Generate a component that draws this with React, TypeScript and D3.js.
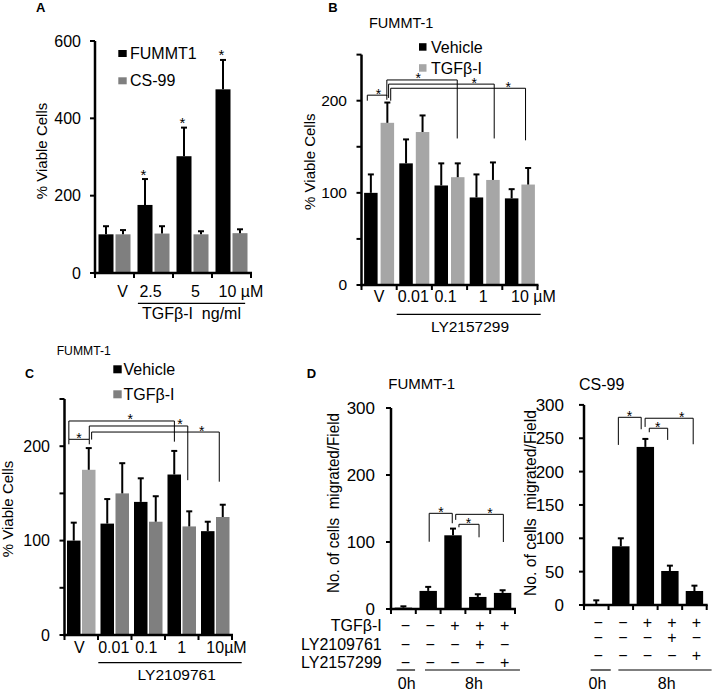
import React from "react";
import * as d3 from "d3";

const FONT = "'Liberation Sans', Arial, Helvetica, sans-serif";

/* ---------------- Panel A data ---------------- */
const aCategories = ["V", "2.5", "5", "10"];
const aLegend = ["FUMMT1", "CS-99"];
const aFummt1 = [100, 176, 302, 475];
const aFummt1Err = [21, 67, 74, 76];
const aCs99 = [100, 102, 100, 103];
const aCs99Err = [11, 19, 8, 10];
const aStarred = [false, true, true, true];
const aYTicks = [0, 200, 400, 600];

/* ---------------- Panel B data ---------------- */
const bCategories = ["V", "0.01", "0.1", "1", "10"];
const bLegend = ["Vehicle", "TGFβ-I"];
const bVehicle = [100, 132, 108, 95, 94];
const bVehicleErr = [20, 26, 24, 25, 10];
const bTgf = [176, 166, 117, 114, 109];
const bTgfErr = [22, 18, 15, 19, 18];
const bYTicks = [0, 50, 100, 150, 200, 250];
const bYTickLabels = [0, 100, 200];

/* ---------------- Panel C data ---------------- */
const cCategories = ["V", "0.01", "0.1", "1", "10"];
const cLegend = ["Vehicle", "TGFβ-I"];
const cVehicle = [100, 118, 141, 170, 110];
const cVehicleErr = [19, 26, 25, 25, 10];
const cTgf = [175, 150, 120, 115, 125];
const cTgfErr = [23, 32, 27, 16, 13];
const cYTicks = [0, 50, 100, 150, 200, 250];
const cYTickLabels = [0, 100, 200];

/* ---------------- Panel D data ---------------- */
const dConditions = ["0h", "8h", "8h+TGFβ-I", "8h+TGFβ-I+LY2109761", "8h+TGFβ-I+LY2157299"];
const dFummt = [2, 27, 110, 18, 24];
const dFummtErr = [2, 6, 10, 4, 4];
const dCs99 = [1, 88, 237, 51, 21];
const dCs99Err = [6, 12, 12, 8, 8];
const dRowNames = ["TGFβ-I", "LY2109761", "LY2157299"];
const dTgfSigns = ["−", "−", "+", "+", "+"];
const dLy2109761Signs = ["−", "−", "−", "+", "−"];
const dLy2157299Signs = ["−", "−", "−", "−", "+"];
const dFummtTicks = [0, 100, 200, 300];
const dCs99Ticks = [0, 50, 100, 150, 200, 250, 300];

/* significance brackets: x in group units, y in value units */
interface Bracket { x1: number; x2: number; sx: number; y: number; d1: number; d2: number }
const bBrackets: Bracket[] = [
  { x1: 0.165, x2: 0.72, sx: 0.48, y: 206, d1: 200, d2: 201 },
  { x1: 0.72, x2: 2.72, sx: 1.61, y: 222.5, d1: 205, d2: 159 },
  { x1: 0.77, x2: 3.77, sx: 3.2, y: 218, d1: 203, d2: 159 },
  { x1: 0.83, x2: 4.66, sx: 4.17, y: 213.5, d1: 200, d2: 157 },
];
const cBrackets: Bracket[] = [
  { x1: 0.13, x2: 0.74, sx: 0.43, y: 207.3, d1: 202, d2: 202 },
  { x1: 0.13, x2: 3.28, sx: 1.96, y: 226.7, d1: 207.3, d2: 204.8 },
  { x1: 0.74, x2: 3.68, sx: 3.45, y: 221.4, d1: 207.3, d2: 164 },
  { x1: 0.81, x2: 4.62, sx: 4.1, y: 215, d1: 207, d2: 162.4 },
];
const dFummtBrackets: Bracket[] = [
  { x1: 1.54, x2: 2.47, sx: 2.02, y: 142.8, d1: 100.4, d2: 128 },
  { x1: 2.61, x2: 4.53, sx: 3.99, y: 141.3, d1: 133, d2: 100 },
  { x1: 2.74, x2: 3.55, sx: 3.12, y: 126.4, d1: 122, d2: 107 },
];
const dCs99Brackets: Bracket[] = [
  { x1: 1.4, x2: 2.33, sx: 1.85, y: 281.4, d1: 240, d2: 263.5 },
  { x1: 2.49, x2: 4.45, sx: 3.98, y: 280, d1: 267, d2: 241 },
  { x1: 2.66, x2: 3.41, sx: 3.0, y: 265, d1: 259, d2: 247.5 },
];

interface SeriesDef { values: number[]; errs: number[]; colors: string[] }
interface PanelCfg {
  id: string;
  cats: string[];
  series: SeriesDef[];
  xr: [number, number];
  y0: number;
  ppu: number;
  yMax: number;
  barW: number;
  gap: number;
  yTicks: number[];
  yTickLabels: number[];
  tickFont: number;
  labelEnd: number;
  brackets?: Bracket[];
}

function buildPanel(c: PanelCfg) {
  const x = d3.scaleBand<string>().domain(c.cats).range(c.xr).paddingInner(0).paddingOuter(0);
  const gl = d3.scaleLinear().domain([0, c.cats.length]).range(c.xr);
  const y = d3.scaleLinear().domain([0, c.yMax]).range([c.y0, c.y0 - c.yMax * c.ppu]);
  const n = c.series.length;
  const half = n === 1 ? c.barW / 2 : c.barW + c.gap / 2;
  const xi = d3
    .scaleBand<number>()
    .domain(d3.range(n))
    .range([-half, half])
    .paddingInner(n === 1 ? 0 : c.gap / (c.barW + c.gap));
  const center = (cat: string) => (x(cat) as number) + x.bandwidth() / 2;
  const els: React.ReactNode[] = [];
  const w = xi.bandwidth();
  c.series.forEach((s, si) => {
    c.cats.forEach((cat, ci) => {
      const bx = center(cat) + (xi(si) as number);
      const v = s.values[ci];
      els.push(
        <rect key={`${c.id}-bar-${si}-${ci}`} x={bx} y={y(v)} width={w} height={y(0) - y(v)}
          fill={s.colors[Math.min(ci, s.colors.length - 1)]} />
      );
    });
  });
  c.series.forEach((s, si) => {
    c.cats.forEach((cat, ci) => {
      const cx = center(cat) + (xi(si) as number) + w / 2;
      const v = s.values[ci];
      const top = y(v + s.errs[ci]);
      els.push(
        <g key={`${c.id}-err-${si}-${ci}`} stroke="#000" strokeWidth={2}>
          <line x1={cx} x2={cx} y1={y(v)} y2={top} />
          <line x1={cx - 3} x2={cx + 3} y1={top} y2={top} />
        </g>
      );
    });
  });
  els.push(
    <g key={`${c.id}-axes`} stroke="#000">
      <line x1={c.xr[0]} x2={c.xr[0]} y1={y(c.yMax)} y2={y(0) + 1.25} strokeWidth={2.5} />
      <line x1={c.xr[0] - 1.25} x2={c.xr[1] + 1} y1={y(0)} y2={y(0)} strokeWidth={2.5} />
      {c.yTicks.map((t) => (
        <line key={`yt${t}`} x1={c.xr[0] - 5} x2={c.xr[0]} y1={y(t)} y2={y(t)} strokeWidth={2} />
      ))}
      {d3.range(c.cats.length + 1).map((i) => (
        <line key={`xt${i}`} x1={gl(i)} x2={gl(i)} y1={y(0)} y2={y(0) + 5} strokeWidth={2} />
      ))}
    </g>
  );
  c.yTickLabels.forEach((t) => {
    els.push(
      <text key={`${c.id}-ytl-${t}`} x={c.labelEnd} y={y(t)} dy="0.35em" textAnchor="end" fontSize={c.tickFont}>
        {t}
      </text>
    );
  });
  (c.brackets || []).forEach((b, i) => {
    els.push(
      <g key={`${c.id}-br-${i}`}>
        <path d={`M${gl(b.x1)},${y(b.d1)}V${y(b.y)}H${gl(b.x2)}V${y(b.d2)}`} fill="none" stroke="#000" strokeWidth={1} />
        <text x={gl(b.sx)} y={y(b.y) + 3.5} textAnchor="middle" fontSize={14}>*</text>
      </g>
    );
  });
  return { x, gl, y, center, xi, els };
}

function xLabels(id: string, centers: number[], labels: string[], dx: number[], baseline: number, suffix: string, font: number) {
  return labels.map((l, i) => {
    const last = i === labels.length - 1;
    return (
      <text key={`${id}-xl-${i}`} x={last ? centers[i] + dx[i] - 0.556 * font : centers[i] + dx[i]} y={baseline}
        textAnchor={last ? "start" : "middle"} fontSize={font}>
        {last ? l + suffix : l}
      </text>
    );
  });
}

function YLabel({ cx, cy, text, size, len }: { cx: number; cy: number; text: string; size: number; len?: number }) {
  return (
    <text transform={`translate(${cx},${cy}) rotate(-90)`} textAnchor="middle" dy="0.35em" fontSize={size}
      textLength={len} lengthAdjust={len ? "spacingAndGlyphs" : undefined}>
      {text}
    </text>
  );
}

function PanelA() {
  const p = buildPanel({
    id: "A", cats: aCategories,
    series: [
      { values: aFummt1, errs: aFummt1Err, colors: ["#000"] },
      { values: aCs99, errs: aCs99Err, colors: ["#7f7f7f"] },
    ],
    xr: [95, 251], y0: 273, ppu: 232 / 600, yMax: 600, barW: 15, gap: 2,
    yTicks: aYTicks, yTickLabels: aYTicks, tickFont: 16, labelEnd: 81,
  });
  const centers = aCategories.map(p.center);
  return (
    <g>
      {p.els}
      {aCategories.map((cat, i) =>
        aStarred[i] ? (
          <text key={`As${i}`} x={p.center(cat) + (p.xi(0) as number) + p.xi.bandwidth() / 2 - 1.5}
            y={p.y(aFummt1[i] + aFummt1Err[i]) + 0.5} textAnchor="middle" fontSize={15}>*</text>
        ) : null
      )}
      <text x={36} y={12} fontSize={13} fontWeight="bold">A</text>
      <YLabel cx={42} cy={151} text="% Viable Cells" size={15} />
      <rect x={118.3} y={50} width={8.4} height={7} fill="#000" />
      <text x={130} y={53.3} dy="0.35em" fontSize={16}>{aLegend[0]}</text>
      <rect x={118.3} y={77.3} width={8.4} height={7} fill="#7f7f7f" />
      <text x={130} y={80.7} dy="0.35em" fontSize={16}>{aLegend[1]}</text>
      {xLabels("A", centers, aCategories, [8, -3, 3, -4], 297, " µM", 16)}
      <line x1={p.gl(1.1)} x2={p.gl(3.85)} y1={303.3} y2={303.3} stroke="#000" strokeWidth={1.2} />
      <text x={191.5} y={319} textAnchor="middle" fontSize={16}>{"TGFβ-I\u00a0 ng/ml"}</text>
    </g>
  );
}

function PanelB() {
  const p = buildPanel({
    id: "B", cats: bCategories,
    series: [
      { values: bVehicle, errs: bVehicleErr, colors: ["#000"] },
      { values: bTgf, errs: bTgfErr, colors: ["#a6a6a6"] },
    ],
    xr: [361.5, 537.5], y0: 285, ppu: 0.9215, yMax: 250, barW: 13.5, gap: 3,
    yTicks: bYTicks, yTickLabels: bYTickLabels, tickFont: 15.5, labelEnd: 347, brackets: bBrackets,
  });
  const centers = bCategories.map(p.center);
  return (
    <g>
      {p.els}
      <text x={328.3} y={12} fontSize={13} fontWeight="bold">B</text>
      <text x={369} y={28.3} fontSize={14.5}>FUMMT-1</text>
      <rect x={419} y={43.2} width={7.5} height={7.5} fill="#000" />
      <text x={431} y={47} dy="0.35em" fontSize={16}>{bLegend[0]}</text>
      <rect x={419} y={64.2} width={7.5} height={7.5} fill="#a6a6a6" />
      <text x={431} y={68} dy="0.35em" fontSize={16}>{bLegend[1]}</text>
      <YLabel cx={310} cy={161.7} text="% Viable Cells" size={15} />
      {xLabels("B", centers, bCategories, [0, -1, -4, -1.5, 0], 301.7, " µM", 16)}
      <line x1={396.7} x2={540.7} y1={314.3} y2={314.3} stroke="#000" strokeWidth={1.2} />
      <text x={470} y={332} textAnchor="middle" fontSize={15.5}>LY2157299</text>
    </g>
  );
}

function PanelC() {
  const p = buildPanel({
    id: "C", cats: cCategories,
    series: [
      { values: cVehicle, errs: cVehicleErr, colors: ["#000"] },
      { values: cTgf, errs: cTgfErr, colors: ["#a6a6a6", "#7f7f7f"] },
    ],
    xr: [64.5, 232], y0: 635, ppu: 0.944, yMax: 250, barW: 13.5, gap: 1.5,
    yTicks: cYTicks, yTickLabels: cYTickLabels, tickFont: 16, labelEnd: 50, brackets: cBrackets,
  });
  const centers = cCategories.map(p.center);
  return (
    <g>
      {p.els}
      <text x={56.7} y={355} fontSize={13.5} textLength={54} lengthAdjust="spacingAndGlyphs">FUMMT-1</text>
      <text x={25} y={378.3} fontSize={12.5} fontWeight="bold">C</text>
      <rect x={113.3} y={365.3} width={8.4} height={8} fill="#000" />
      <text x={123.5} y={369.3} dy="0.35em" fontSize={16}>{cLegend[0]}</text>
      <rect x={113.3} y={390.3} width={8.4} height={8} fill="#7f7f7f" />
      <text x={123.5} y={394.3} dy="0.35em" fontSize={16}>{cLegend[1]}</text>
      <YLabel cx={7.5} cy={509} text="% Viable Cells" size={15} />
      {xLabels("C", centers, cCategories, [-2, -1, -2, 0, 0], 653.3, "µM", 16)}
      <line x1={98.3} x2={241.7} y1={662.7} y2={662.7} stroke="#000" strokeWidth={1.2} />
      <text x={176.7} y={680} textAnchor="middle" fontSize={15.5}>LY2109761</text>
    </g>
  );
}

function signTable(id: string, centers: number[], rows: number[]) {
  const signRows = [dTgfSigns, dLy2109761Signs, dLy2157299Signs];
  return signRows.map((row, ri) =>
    row.map((s, ci) => (
      <text key={`${id}-s-${ri}-${ci}`} x={centers[ci] + 2} y={rows[ri]} dy="0.35em" textAnchor="middle" fontSize={16}>
        {s}
      </text>
    ))
  );
}

function PanelD() {
  const L = buildPanel({
    id: "DL", cats: dConditions,
    series: [{ values: dFummt, errs: dFummtErr, colors: ["#000"] }],
    xr: [391, 515], y0: 609, ppu: 0.67, yMax: 300, barW: 17.4, gap: 0,
    yTicks: dFummtTicks, yTickLabels: dFummtTicks, tickFont: 17, labelEnd: 375, brackets: dFummtBrackets,
  });
  const R = buildPanel({
    id: "DR", cats: dConditions,
    series: [{ values: dCs99, errs: dCs99Err, colors: ["#000"] }],
    xr: [584, 706.7], y0: 605, ppu: 0.667, yMax: 300, barW: 17.4, gap: 0,
    yTicks: dCs99Ticks, yTickLabels: dCs99Ticks, tickFont: 17, labelEnd: 564, brackets: dCs99Brackets,
  });
  const lc = dConditions.map(L.center);
  const rc = dConditions.map(R.center);
  const leftRows = [625.7, 644.3, 662.7];
  const rightRows = [622, 637.5, 655];
  return (
    <g>
      {L.els}
      {R.els}
      <text x={306.7} y={378.3} fontSize={13} fontWeight="bold">D</text>
      <text x={421.7} y={388.5} textAnchor="middle" fontSize={15}>FUMMT-1</text>
      <text x={601.7} y={390} textAnchor="middle" fontSize={16}>CS-99</text>
      <YLabel cx={333.3} cy={503} text={"No. of cells\u00a0 migrated/Field"} size={16} len={180} />
      <YLabel cx={530} cy={503} text={"No. of cells\u00a0 migrated/Field"} size={16} len={186} />
      {dRowNames.map((r, i) => (
        <text key={`rn${i}`} x={381.7} y={leftRows[i]} dy="0.35em" textAnchor="end" fontSize={16}>{r}</text>
      ))}
      {signTable("DL", lc, leftRows)}
      {signTable("DR", rc, rightRows)}
      <g stroke="#000" strokeWidth={1.2}>
        <line x1={L.gl(0.23)} x2={L.gl(0.97)} y1={670} y2={670} />
        <line x1={L.gl(1.37)} x2={L.gl(5.2)} y1={670} y2={670} />
        <line x1={R.gl(0.27)} x2={R.gl(1.09)} y1={670} y2={670} />
        <line x1={R.gl(1.4)} x2={R.gl(5.2)} y1={670} y2={670} />
      </g>
      <text x={406.7} y={689} textAnchor="middle" fontSize={16}>0h</text>
      <text x={474} y={689} textAnchor="middle" fontSize={16}>8h</text>
      <text x={597.5} y={689} textAnchor="middle" fontSize={16}>0h</text>
      <text x={666.7} y={689} textAnchor="middle" fontSize={16}>8h</text>
    </g>
  );
}

export default function App() {
  return (
    <div style={{ position: "absolute", left: 0, top: 0 }}>
      <svg width={712} height={692} viewBox="0 0 712 692" style={{ display: "block", background: "#fff" }}
        fontFamily={FONT} fill="#000">
        <rect x={0} y={0} width={712} height={692} fill="#fff" />
        <PanelA />
        <PanelB />
        <PanelC />
        <PanelD />
      </svg>
    </div>
  );
}
